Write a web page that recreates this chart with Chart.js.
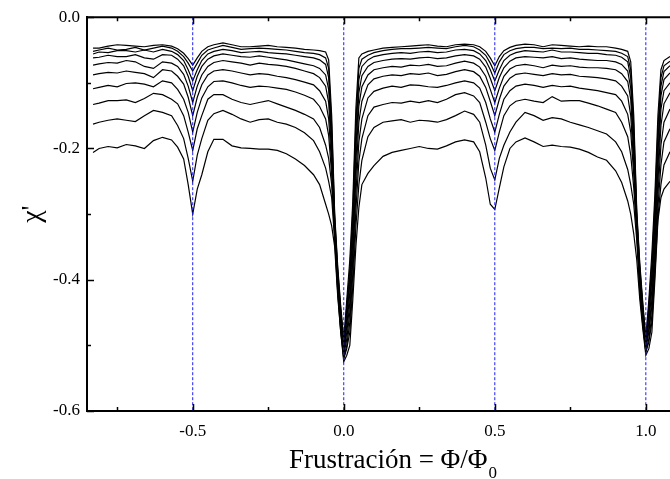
<!DOCTYPE html>
<html>
<head>
<meta charset="utf-8">
<script src="https://cdn.jsdelivr.net/npm/chart.js@4.4.1/dist/chart.umd.min.js"></script>
<style>
  html, body { margin: 0; padding: 0; background: #fff; overflow: hidden; }
  #c { display: block; }
</style>
</head>
<body>
<canvas id="c" width="670" height="479"></canvas>
<script>
// ---- data ----
const fluxX = [-0.83, -0.81, -0.78, -0.75, -0.72, -0.69, -0.66, -0.63, -0.60, -0.57,
  -0.55, -0.53, -0.515, -0.50, -0.485, -0.47, -0.45, -0.43,
  -0.40, -0.37, -0.34, -0.31, -0.28, -0.25, -0.22, -0.19, -0.16, -0.13,
  -0.10, -0.08, -0.06, -0.05, -0.04, -0.03, -0.02, -0.01, 0.00, 0.01, 0.02, 0.03, 0.04, 0.05, 0.06, 0.08, 0.10,
  0.13, 0.16, 0.19, 0.22, 0.25, 0.28, 0.31, 0.34, 0.37, 0.40, 0.43,
  0.45, 0.47, 0.485, 0.50, 0.515, 0.53, 0.55, 0.57,
  0.60, 0.63, 0.66, 0.69, 0.72, 0.75, 0.78, 0.81, 0.84, 0.87,
  0.90, 0.92, 0.94, 0.95, 0.96, 0.97, 0.98, 0.99, 1.00, 1.01, 1.02, 1.03, 1.04, 1.05, 1.06, 1.08];

const chi1 = [-0.047, -0.047, -0.044, -0.042, -0.043, -0.044, -0.045, -0.043, -0.042, -0.044,
  -0.048, -0.055, -0.063, -0.073, -0.062, -0.052, -0.045, -0.042,
  -0.039, -0.042, -0.045, -0.045, -0.044, -0.043, -0.045, -0.046, -0.047, -0.049,
  -0.050, -0.051, -0.053, -0.065, -0.150, -0.300, -0.380, -0.440, -0.490, -0.430, -0.370, -0.280, -0.140, -0.062, -0.056, -0.052, -0.050,
  -0.047, -0.046, -0.045, -0.044, -0.043, -0.042, -0.044, -0.045, -0.042, -0.041, -0.042,
  -0.045, -0.052, -0.062, -0.074, -0.060, -0.051, -0.046, -0.043,
  -0.041, -0.042, -0.045, -0.042, -0.043, -0.044, -0.045, -0.044, -0.045, -0.045,
  -0.047, -0.049, -0.052, -0.068, -0.150, -0.295, -0.375, -0.435, -0.490, -0.430, -0.360, -0.270, -0.150, -0.080, -0.066, -0.060];

const chi2 = [-0.052, -0.050, -0.047, -0.050, -0.049, -0.046, -0.050, -0.047, -0.044, -0.047,
  -0.052, -0.060, -0.070, -0.082, -0.070, -0.058, -0.050, -0.047,
  -0.043, -0.046, -0.049, -0.048, -0.047, -0.048, -0.049, -0.050, -0.052, -0.054,
  -0.055, -0.057, -0.062, -0.078, -0.165, -0.305, -0.385, -0.445, -0.500, -0.440, -0.385, -0.295, -0.160, -0.078, -0.064, -0.058, -0.054,
  -0.051, -0.049, -0.048, -0.048, -0.047, -0.046, -0.047, -0.048, -0.045, -0.043, -0.045,
  -0.050, -0.058, -0.070, -0.085, -0.068, -0.057, -0.051, -0.048,
  -0.046, -0.046, -0.048, -0.047, -0.048, -0.047, -0.049, -0.049, -0.050, -0.051,
  -0.052, -0.055, -0.060, -0.080, -0.165, -0.300, -0.380, -0.440, -0.490, -0.440, -0.375, -0.285, -0.170, -0.092, -0.074, -0.067];

const chi3 = [-0.056, -0.053, -0.054, -0.051, -0.051, -0.053, -0.050, -0.053, -0.049, -0.052,
  -0.057, -0.066, -0.080, -0.097, -0.080, -0.066, -0.056, -0.052,
  -0.049, -0.051, -0.054, -0.053, -0.052, -0.054, -0.055, -0.056, -0.058, -0.060,
  -0.062, -0.065, -0.072, -0.092, -0.180, -0.310, -0.390, -0.450, -0.500, -0.450, -0.395, -0.310, -0.180, -0.095, -0.075, -0.065, -0.060,
  -0.057, -0.055, -0.054, -0.055, -0.053, -0.052, -0.054, -0.053, -0.050, -0.049, -0.051,
  -0.056, -0.066, -0.080, -0.097, -0.080, -0.066, -0.058, -0.054,
  -0.051, -0.052, -0.053, -0.050, -0.053, -0.053, -0.054, -0.055, -0.055, -0.057,
  -0.058, -0.061, -0.068, -0.092, -0.180, -0.305, -0.385, -0.445, -0.495, -0.450, -0.390, -0.300, -0.190, -0.105, -0.083, -0.074];

const chi4 = [-0.062, -0.061, -0.058, -0.060, -0.060, -0.057, -0.062, -0.064, -0.057, -0.058,
  -0.064, -0.074, -0.090, -0.112, -0.090, -0.075, -0.064, -0.059,
  -0.056, -0.058, -0.060, -0.061, -0.059, -0.061, -0.063, -0.065, -0.068, -0.071,
  -0.074, -0.078, -0.088, -0.110, -0.195, -0.315, -0.395, -0.455, -0.505, -0.460, -0.405, -0.325, -0.200, -0.115, -0.089, -0.075, -0.069,
  -0.066, -0.064, -0.063, -0.064, -0.062, -0.061, -0.063, -0.062, -0.059, -0.057, -0.059,
  -0.064, -0.076, -0.093, -0.112, -0.092, -0.077, -0.067, -0.062,
  -0.060, -0.061, -0.062, -0.060, -0.063, -0.062, -0.064, -0.065, -0.066, -0.066,
  -0.068, -0.072, -0.082, -0.108, -0.195, -0.310, -0.390, -0.450, -0.495, -0.455, -0.400, -0.315, -0.210, -0.120, -0.095, -0.085];

const chi5 = [-0.073, -0.071, -0.069, -0.070, -0.066, -0.068, -0.075, -0.078, -0.068, -0.070,
  -0.075, -0.087, -0.105, -0.130, -0.105, -0.088, -0.075, -0.069,
  -0.066, -0.068, -0.070, -0.073, -0.070, -0.072, -0.073, -0.075, -0.078, -0.082,
  -0.086, -0.092, -0.105, -0.130, -0.210, -0.320, -0.400, -0.460, -0.510, -0.470, -0.420, -0.340, -0.220, -0.135, -0.106, -0.088, -0.080,
  -0.077, -0.075, -0.076, -0.073, -0.074, -0.072, -0.075, -0.074, -0.070, -0.067, -0.070,
  -0.076, -0.090, -0.110, -0.130, -0.108, -0.090, -0.079, -0.074,
  -0.072, -0.074, -0.077, -0.073, -0.075, -0.074, -0.076, -0.077, -0.077, -0.078,
  -0.080, -0.086, -0.098, -0.125, -0.210, -0.315, -0.395, -0.455, -0.500, -0.465, -0.415, -0.330, -0.230, -0.140, -0.112, -0.100];

const chi6 = [-0.088, -0.086, -0.084, -0.085, -0.082, -0.084, -0.086, -0.092, -0.080, -0.082,
  -0.090, -0.102, -0.122, -0.150, -0.122, -0.103, -0.088, -0.082,
  -0.080, -0.082, -0.085, -0.088, -0.086, -0.087, -0.090, -0.092, -0.095, -0.099,
  -0.103, -0.112, -0.128, -0.155, -0.225, -0.325, -0.405, -0.465, -0.510, -0.480, -0.435, -0.355, -0.245, -0.160, -0.128, -0.103, -0.094,
  -0.090, -0.088, -0.089, -0.086, -0.087, -0.085, -0.089, -0.087, -0.083, -0.080, -0.083,
  -0.090, -0.107, -0.128, -0.150, -0.125, -0.105, -0.093, -0.087,
  -0.085, -0.087, -0.089, -0.086, -0.088, -0.087, -0.090, -0.091, -0.092, -0.094,
  -0.097, -0.105, -0.120, -0.150, -0.225, -0.320, -0.400, -0.460, -0.500, -0.475, -0.430, -0.345, -0.250, -0.165, -0.132, -0.115];

const chi7 = [-0.109, -0.107, -0.104, -0.106, -0.101, -0.100, -0.102, -0.106, -0.097, -0.100,
  -0.110, -0.125, -0.145, -0.175, -0.145, -0.123, -0.106, -0.098,
  -0.097, -0.100, -0.104, -0.107, -0.105, -0.106, -0.108, -0.110, -0.114, -0.119,
  -0.125, -0.136, -0.155, -0.180, -0.240, -0.330, -0.410, -0.470, -0.515, -0.490, -0.450, -0.370, -0.270, -0.190, -0.155, -0.123, -0.113,
  -0.108, -0.105, -0.107, -0.103, -0.104, -0.106, -0.107, -0.104, -0.100, -0.097, -0.100,
  -0.108, -0.130, -0.155, -0.175, -0.148, -0.125, -0.112, -0.105,
  -0.102, -0.104, -0.107, -0.104, -0.106, -0.105, -0.108, -0.110, -0.112, -0.115,
  -0.118, -0.128, -0.148, -0.175, -0.240, -0.325, -0.405, -0.465, -0.505, -0.480, -0.440, -0.360, -0.270, -0.195, -0.160, -0.140];

const chi8 = [-0.133, -0.131, -0.127, -0.127, -0.126, -0.130, -0.124, -0.116, -0.118, -0.125,
  -0.132, -0.150, -0.175, -0.203, -0.170, -0.150, -0.125, -0.118,
  -0.118, -0.125, -0.130, -0.133, -0.130, -0.127, -0.132, -0.137, -0.142, -0.148,
  -0.155, -0.168, -0.195, -0.215, -0.255, -0.335, -0.415, -0.475, -0.520, -0.500, -0.465, -0.390, -0.295, -0.220, -0.185, -0.150, -0.137,
  -0.133, -0.130, -0.131, -0.128, -0.130, -0.127, -0.130, -0.125, -0.118, -0.115, -0.120,
  -0.130, -0.160, -0.185, -0.203, -0.175, -0.150, -0.135, -0.128,
  -0.125, -0.128, -0.130, -0.121, -0.128, -0.127, -0.127, -0.131, -0.135, -0.140,
  -0.145, -0.160, -0.182, -0.210, -0.260, -0.330, -0.410, -0.465, -0.510, -0.490, -0.455, -0.375, -0.290, -0.225, -0.190, -0.170];

const chi9 = [-0.163, -0.160, -0.157, -0.155, -0.157, -0.159, -0.150, -0.142, -0.145, -0.150,
  -0.165, -0.185, -0.215, -0.250, -0.210, -0.185, -0.157, -0.147,
  -0.142, -0.148, -0.155, -0.160, -0.156, -0.155, -0.160, -0.163, -0.168, -0.176,
  -0.188, -0.205, -0.230, -0.250, -0.275, -0.340, -0.420, -0.480, -0.520, -0.505, -0.480, -0.410, -0.320, -0.255, -0.218, -0.182, -0.168,
  -0.160, -0.158, -0.156, -0.160, -0.157, -0.158, -0.160, -0.156, -0.150, -0.143, -0.148,
  -0.160, -0.195, -0.230, -0.248, -0.215, -0.195, -0.175, -0.160,
  -0.145, -0.150, -0.157, -0.153, -0.155, -0.160, -0.164, -0.168, -0.173, -0.178,
  -0.190, -0.205, -0.232, -0.255, -0.285, -0.340, -0.420, -0.470, -0.510, -0.495, -0.465, -0.390, -0.305, -0.255, -0.225, -0.205];

const chi10 = [-0.206, -0.200, -0.197, -0.199, -0.194, -0.196, -0.200, -0.188, -0.183, -0.187,
  -0.198, -0.216, -0.255, -0.300, -0.262, -0.240, -0.205, -0.186,
  -0.186, -0.196, -0.199, -0.200, -0.201, -0.201, -0.203, -0.208, -0.216, -0.226,
  -0.240, -0.255, -0.285, -0.300, -0.318, -0.350, -0.425, -0.480, -0.525, -0.515, -0.500, -0.430, -0.350, -0.290, -0.255, -0.238, -0.226,
  -0.212, -0.206, -0.203, -0.200, -0.197, -0.200, -0.201, -0.196, -0.190, -0.187, -0.190,
  -0.205, -0.245, -0.285, -0.293, -0.260, -0.228, -0.200, -0.190,
  -0.184, -0.190, -0.197, -0.195, -0.197, -0.198, -0.201, -0.206, -0.213, -0.218,
  -0.234, -0.252, -0.280, -0.300, -0.330, -0.370, -0.430, -0.475, -0.515, -0.505, -0.480, -0.400, -0.310, -0.275, -0.262, -0.250];

const chiSeries = [chi1, chi2, chi3, chi4, chi5, chi6, chi7, chi8, chi9, chi10];

const markerX = [-0.5, 0.0, 0.5, 1.0];           // blue dotted guide lines
const xMajorTicks = [-0.5, 0.0, 0.5, 1.0];
const xMinorTicks = [-0.75, -0.25, 0.25, 0.75];
const yMajorTicks = [-0.6, -0.4, -0.2, 0.0];
const yMinorTicks = [-0.5, -0.3, -0.1];
const xTitle = 'Frustración = Φ/Φ';
const xTitleSub = '0';
const yTitle = "χ'";

// ---- chart ----
const SERIF = '"Liberation Serif", "Times New Roman", serif';

const datasets = [];
chiSeries.forEach((s, k) => {
  datasets.push({
    label: 'curve ' + (k + 1),
    data: fluxX.map((x, i) => ({ x: x, y: s[i] })),
    borderColor: '#000000',
    borderWidth: 1.2,
    pointRadius: 0,
    showLine: true,
    fill: false,
    tension: 0,
    order: 2
  });
});
markerX.forEach(v => {
  datasets.push({
    label: 'guide ' + v,
    data: [{ x: v, y: 0.0 }, { x: v, y: -0.6 }],
    borderColor: '#1a1aff',
    borderWidth: 1,
    borderDash: [3, 2],
    pointRadius: 0,
    showLine: true,
    fill: false,
    order: 1
  });
});

const decor = {
  id: 'decor',
  afterDraw(chart) {
    const { ctx, chartArea: a, scales: { x, y } } = chart;
    ctx.save();
    ctx.strokeStyle = '#000';
    // top frame line
    ctx.lineWidth = 2;
    ctx.beginPath();
    ctx.moveTo(a.left - 1, a.top);
    ctx.lineTo(a.right, a.top);
    ctx.stroke();
    // inward ticks
    ctx.lineWidth = 1.5;
    const xt = (v, len) => {
      const p = Math.round(x.getPixelForValue(v)) + 0.5;
      ctx.beginPath();
      ctx.moveTo(p, a.bottom); ctx.lineTo(p, a.bottom - len);
      ctx.moveTo(p, a.top); ctx.lineTo(p, a.top + len);
      ctx.stroke();
    };
    const yt = (v, len) => {
      const p = Math.round(y.getPixelForValue(v)) + 0.5;
      ctx.beginPath();
      ctx.moveTo(a.left, p); ctx.lineTo(a.left + len, p);
      ctx.stroke();
    };
    xMajorTicks.forEach(v => xt(v, 7));
    xMinorTicks.forEach(v => xt(v, 4));
    yMajorTicks.forEach(v => yt(v, 7));
    yMinorTicks.forEach(v => yt(v, 4));

    // x title with subscript
    ctx.fillStyle = '#000';
    ctx.textBaseline = 'alphabetic';
    ctx.textAlign = 'left';
    ctx.font = '27px ' + SERIF;
    const wMain = ctx.measureText(xTitle).width;
    ctx.font = '17px ' + SERIF;
    const wSub = ctx.measureText(xTitleSub).width;
    const cx = (a.left + a.right) / 2 + 14;
    const x0 = cx - (wMain + wSub) / 2;
    const base = a.bottom + 57;
    ctx.font = '27px ' + SERIF;
    ctx.fillText(xTitle, x0, base);
    ctx.font = '17px ' + SERIF;
    ctx.fillText(xTitleSub, x0 + wMain + 1, base + 10);

    // y title, rotated
    ctx.translate(33, (a.top + a.bottom) / 2);
    ctx.rotate(-Math.PI / 2);
    ctx.textAlign = 'center';
    ctx.textBaseline = 'middle';
    ctx.font = '28px ' + SERIF;
    ctx.fillText(yTitle, 0, 0);
    ctx.restore();
  }
};

new Chart(document.getElementById('c'), {
  type: 'scatter',
  data: { datasets: datasets },
  options: {
    responsive: false,
    animation: false,
    devicePixelRatio: 1,
    layout: { padding: { left: 0, right: 0, top: 14, bottom: 0 } },
    plugins: { legend: { display: false }, tooltip: { enabled: false } },
    scales: {
      x: {
        type: 'linear',
        position: 'bottom',
        min: -0.85,
        max: 1.08,
        grid: { display: false, drawTicks: false },
        border: { display: true, color: '#000', width: 2 },
        ticks: {
          color: '#000',
          font: { family: SERIF, size: 17 },
          padding: 10,
          maxRotation: 0,
          autoSkip: false,
          callback: v => Number(v).toFixed(1)
        },
        afterBuildTicks: s => { s.ticks = xMajorTicks.map(v => ({ value: v })); },
        afterFit: s => { s.height = 68; }
      },
      y: {
        type: 'linear',
        position: 'left',
        min: -0.6,
        max: 0.0,
        grid: { display: false, drawTicks: false },
        border: { display: true, color: '#000', width: 2 },
        ticks: {
          color: '#000',
          font: { family: SERIF, size: 17 },
          padding: 7,
          autoSkip: false,
          callback: v => Number(v).toFixed(1)
        },
        afterBuildTicks: s => { s.ticks = yMajorTicks.map(v => ({ value: v })); },
        afterFit: s => { s.width = 87; }
      }
    }
  },
  plugins: [decor]
});
</script>
</body>
</html>
